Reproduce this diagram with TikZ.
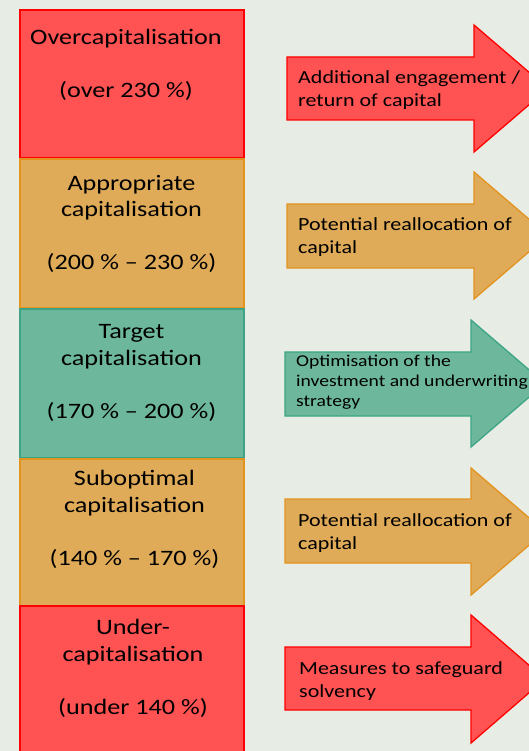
\documentclass[tikz,border=0pt]{standalone}
\usepackage{fontspec}
\setmainfont{Carlito}[FakeStretch=1.19]
\definecolor{bg}{HTML}{E7EDE5}
\definecolor{redfill}{HTML}{FF5252}
\definecolor{redline}{HTML}{FF0000}
\definecolor{orfill}{HTML}{DFAB58}
\definecolor{orline}{HTML}{E3931F}
\definecolor{grfill}{HTML}{6DB89D}
\definecolor{grline}{HTML}{3DA585}
\tikzset{
  boxbase/.style={rectangle, inner sep=0pt, outer sep=0pt, minimum width=224pt, line width=1.3pt},
  redbox/.style={boxbase, fill=redfill, draw=redline},
  orbox/.style={boxbase, fill=orfill, draw=orline},
  grbox/.style={boxbase, fill=grfill, draw=grline},
  boxtext/.style={align=center, inner sep=0pt, font=\fontsize{22}{26.5}\selectfont},
  arrtext/.style={align=left, anchor=west, inner sep=0pt, font=\fontsize{18.5}{23}\selectfont},
  arrtextsmall/.style={align=left, anchor=west, inner sep=0pt, font=\fontsize{16.5}{20}\selectfont},
  redarrow/.style={fill=redfill, draw=redline, line width=1.3pt, line join=miter},
  orarrow/.style={fill=orfill, draw=orline, line width=1.3pt, line join=miter},
  grarrow/.style={fill=grfill, draw=grline, line width=1.3pt, line join=miter}
}
\begin{document}
\begin{tikzpicture}[x=1pt,y=-1pt]
\useasboundingbox (0,0) rectangle (529,751);
\clip (0,0) rectangle (529,751);
\fill[bg] (0,0) rectangle (529,751);

% left boxes
\node[redbox, minimum height=148pt] (b1) at (132,84) {};
\node[orbox, minimum height=149pt] (b2) at (132,233.5) {};
\node[grbox, minimum height=149pt] (b3) at (132,383.5) {};
\node[orbox, minimum height=147pt] (b4) at (132,532.5) {};
\node[redbox, minimum height=164pt] (b5) at (132,688) {};

\node[boxtext] (t1) at (126,64.5) {Overcapitalisation\\ \\(over 230 \%)};
\node[boxtext] (t2) at (131.5,224) {Appropriate\\capitalisation\\ \\(200 \% -- 230 \%)};
\node[boxtext] (t3) at (131.5,373) {Target\\capitalisation\\ \\(170 \% -- 200 \%)};
\node[boxtext] (t4) at (134.5,519.5) {Suboptimal\\capitalisation\\ \\(140 \% -- 170 \%)};
\node[boxtext] (t5) at (133,668.5) {Under-\\capitalisation\\ \\(under 140 \%)};

% arrows
\draw[redarrow] (287,57) -- (474,57) -- (474,25) -- (548,88.5) -- (474,152) -- (474,120) -- (287,120) -- cycle;
\draw[orarrow] (287,204) -- (474,204) -- (474,172) -- (548,235.5) -- (474,299) -- (474,268) -- (287,268) -- cycle;
\draw[grarrow] (285,352) -- (471,352) -- (471,320) -- (545,383.5) -- (471,447) -- (471,416) -- (285,416) -- cycle;
\draw[orarrow] (285,499) -- (471,499) -- (471,468) -- (545,531.5) -- (471,595) -- (471,563) -- (285,563) -- cycle;
\draw[redarrow] (285,647) -- (471,647) -- (471,615) -- (545,679) -- (471,743) -- (471,710) -- (285,710) -- cycle;

\node[arrtext] (a1) at (298,90) {Additional engagement /\\return of capital};
\node[arrtext] (a2) at (298,237) {Potential reallocation of\\capital};
\node[arrtextsmall] (a3) at (296,382.5) {Optimisation of the\\investment and underwriting\\strategy};
\node[arrtext] (a4) at (298,533) {Potential reallocation of\\capital};
\node[arrtext] (a5) at (299,681) {Measures to safeguard\\solvency};
\end{tikzpicture}
\end{document}
